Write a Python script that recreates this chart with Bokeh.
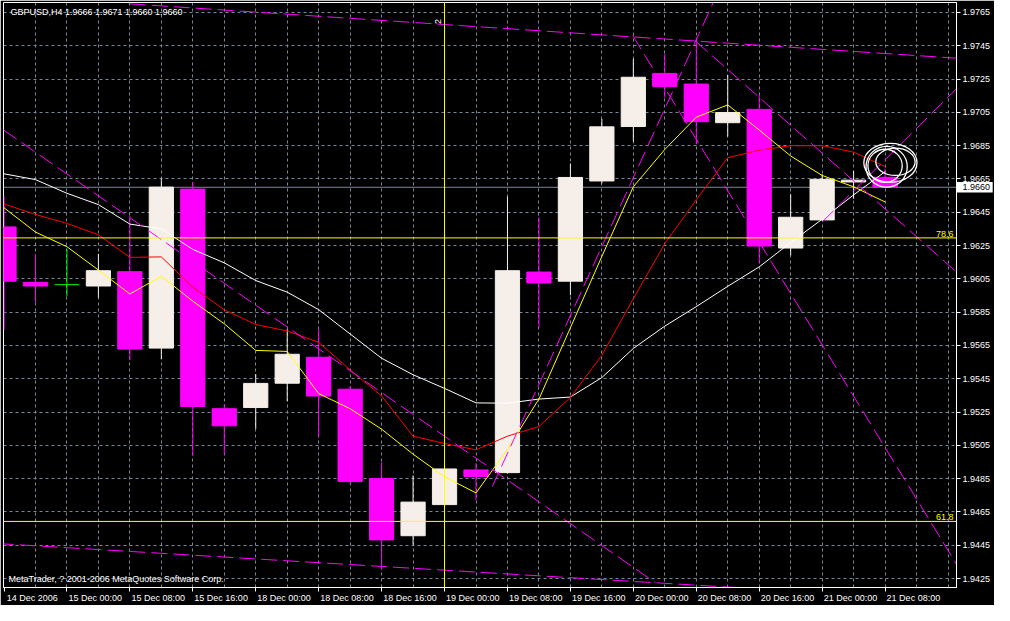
import numpy as np
from bokeh.plotting import figure
from bokeh.models import FixedTicker, Span, PrintfTickFormatter
from bokeh.core.properties import value
from bokeh.embed import file_html
from bokeh.resources import INLINE

# ---------------- data ----------------
symbol = "GBPUSD"
timeframe = "H4"

bar_times = ["14 Dec 16:00", "14 Dec 20:00", "15 Dec 00:00", "15 Dec 04:00", "15 Dec 08:00",
             "15 Dec 12:00", "15 Dec 16:00", "15 Dec 20:00", "18 Dec 00:00", "18 Dec 04:00",
             "18 Dec 08:00", "18 Dec 12:00", "18 Dec 16:00", "18 Dec 20:00", "19 Dec 00:00",
             "19 Dec 04:00", "19 Dec 08:00", "19 Dec 12:00", "19 Dec 16:00", "19 Dec 20:00",
             "20 Dec 00:00", "20 Dec 04:00", "20 Dec 08:00", "20 Dec 12:00", "20 Dec 16:00",
             "20 Dec 20:00", "21 Dec 00:00", "21 Dec 04:00", "21 Dec 08:00"]

open_ = [1.96362, 1.96029, 1.96015, 1.96007, 1.96093, 1.95634, 1.96589, 1.95270, 1.95277, 1.95423,
         1.95579, 1.95387, 1.94850, 1.94507, 1.94694, 1.94902, 1.94886, 1.96091, 1.96036, 1.96638,
         1.96965, 1.97284, 1.97220, 1.96988, 1.97068, 1.96235, 1.96404, 1.96632, 1.9666]
high = [1.96548, 1.96200, 1.96229, 1.96200, 1.96428, 1.96652, 1.96632, 1.95299, 1.95478, 1.95747,
        1.95747, 1.95406, 1.94949, 1.94869, 1.94935, 1.94943, 1.96544, 1.96420, 1.96743, 1.97010,
        1.97372, 1.97401, 1.97500, 1.97274, 1.97154, 1.96558, 1.96679, 1.96698, 1.9671]
low = [1.95743, 1.95910, 1.95945, 1.95937, 1.95562, 1.95568, 1.94988, 1.94997, 1.95149, 1.95315,
       1.95105, 1.94819, 1.94302, 1.94453, 1.94680, 1.94721, 1.94880, 1.95756, 1.95951, 1.96623,
       1.96875, 1.97138, 1.96858, 1.96905, 1.96146, 1.96191, 1.96400, 1.96531, 1.9660]
close = [1.96036, 1.96007, 1.96015, 1.96099, 1.95628, 1.96601, 1.95283, 1.95167, 1.95422, 1.95597,
         1.95346, 1.94832, 1.94482, 1.94709, 1.94908, 1.94863, 1.96099, 1.96025, 1.96659, 1.96963,
         1.97261, 1.97204, 1.96994, 1.97049, 1.96247, 1.96420, 1.96648, 1.96643, 1.9660]

ma_slow = [1.96681, 1.96646, 1.96564, 1.96496, 1.96379, 1.96350, 1.96227, 1.96146, 1.96040, 1.95970,
           1.95865, 1.95719, 1.95573, 1.95474, 1.95392, 1.95305, 1.95303, 1.95328, 1.95340, 1.95457,
           1.95632, 1.95766, 1.95883, 1.96005, 1.96122, 1.96268, 1.96408, 1.96554, 1.96694]
ma_mid = [1.96500, 1.96437, 1.96383, 1.96315, 1.96179, 1.96182, 1.96000, 1.95864, 1.95776, 1.95737,
          1.95669, 1.95503, 1.95347, 1.95105, 1.95061, 1.95023, 1.95105, 1.95163, 1.95338, 1.95591,
          1.95931, 1.96262, 1.96525, 1.96778, 1.96823, 1.96850, 1.96850, 1.96811, 1.96725]
ma_fast = [1.96477, 1.96331, 1.96243, 1.96103, 1.95959, 1.96066, 1.95916, 1.95780, 1.95620, 1.95614,
           1.95361, 1.95270, 1.95147, 1.94997, 1.94861, 1.94764, 1.95026, 1.95328, 1.95756, 1.96185,
           1.96603, 1.96827, 1.97021, 1.97095, 1.96944, 1.96788, 1.96671, 1.96603, 1.96512]

# trend lines: start bar, start price, end bar, end price
trend_x0 = [4.0, -0.2, -0.02, 15.52, 21.98, 19.98, 26.0]
trend_p0 = [1.97702, 1.94460, 1.96945, 1.94803, 1.97478, 1.97512, 1.96391]
trend_x1 = [30.3, 23.5, 20.70, 22.54, 30.27, 30.27, 30.27]
trend_p1 = [1.97375, 1.94193, 1.94225, 1.97710, 1.96091, 1.94336, 1.97192]

fib_levels = [1.96296, 1.94593]
fib_labels = ["78.6", "61.8"]

current_price = 1.9660
vline_bar = 14
vline_label = "2"

ellipse_x = [28.17, 28.05, 28.0, 28.33]
ellipse_y = [1.96747, 1.96723, 1.96729, 1.96753]
ellipse_w = [1.69, 1.31, 1.09, 1.25]
ellipse_h = [0.00234, 0.00245, 0.00199, 0.00164]

y_ticks = [1.9425, 1.9445, 1.9465, 1.9485, 1.9505, 1.9525, 1.9545, 1.9565, 1.9585,
           1.9605, 1.9625, 1.9645, 1.9665, 1.9685, 1.9705, 1.9725, 1.9745, 1.9765]
x_tick_bars = [0, 2, 4, 6, 8, 10, 12, 14, 16, 18, 20, 22, 24, 26, 28]
x_tick_labels = ["14 Dec 2006", "15 Dec 00:00", "15 Dec 08:00", "15 Dec 16:00", "18 Dec 00:00",
                 "18 Dec 08:00", "18 Dec 16:00", "19 Dec 00:00", "19 Dec 08:00", "19 Dec 16:00",
                 "20 Dec 00:00", "20 Dec 08:00", "20 Dec 16:00", "21 Dec 00:00", "21 Dec 08:00"]

copyright_text = "MetaTrader, ? 2001-2006 MetaQuotes Software Corp."

# ---------------- styling ----------------
FONT = "Liberation Sans"
BULL = "#F6EFE9"
BEAR = "#FF00FF"
DOJI = "#00FF00"
GRID = "#778899"
LABEL_SHIFT = 0.9   # time labels start at their tick (left aligned)

x_start, x_end = -0.016, 30.27
y_start, y_end = 1.94196, 1.97710

p = figure(width=994, height=605, x_range=(x_start, x_end), y_range=(y_start, y_end),
           y_axis_location="right", output_backend="svg", toolbar_location=None,
           background_fill_color="black", border_fill_color="black",
           min_border_left=3, min_border_top=2, min_border_right=38, min_border_bottom=17)
p.outline_line_color = "white"
p.outline_line_width = 1

p.yaxis.ticker = FixedTicker(ticks=y_ticks)
p.yaxis.formatter = PrintfTickFormatter(format="%.4f")
label_pos = [b + LABEL_SHIFT for b in x_tick_bars]
p.xaxis.ticker = FixedTicker(ticks=label_pos, minor_ticks=x_tick_bars)
p.xaxis.major_label_overrides = {pos: t for pos, t in zip(label_pos, x_tick_labels)}
for ax in (p.xaxis[0], p.yaxis[0]):
    ax.axis_line_color = "white"
    ax.major_tick_line_color = "white"
    ax.major_tick_out = 4
    ax.major_tick_in = 0
    ax.minor_tick_line_color = None
    ax.major_label_text_color = "white"
    ax.major_label_text_font = FONT
    ax.major_label_text_font_size = "9px"
    ax.major_label_standoff = 2
p.xaxis.major_tick_line_color = None
p.xaxis.minor_tick_line_color = "white"
p.xaxis.minor_tick_out = 4
p.xaxis.minor_tick_in = 0
p.xaxis.major_label_standoff = 1

p.xgrid.ticker = FixedTicker(ticks=list(range(1, 31)))
for g in (p.xgrid[0], p.ygrid[0]):
    g.grid_line_color = GRID
    g.grid_line_dash = "3 3"
    g.grid_line_width = 1

# current price line (behind candles)
p.add_layout(Span(location=current_price, dimension="width", line_color=GRID,
                  line_width=1, level="underlay"))

# ---------------- candles ----------------
idx = np.arange(len(open_))
o = np.array(open_); h = np.array(high); l = np.array(low); c = np.array(close)
bull = c > o
bear = c < o
doji = c == o
bw = 0.77

p.segment(idx[bull], h[bull], idx[bull], l[bull], color=BULL, line_width=1)
p.segment(idx[bear], h[bear], idx[bear], l[bear], color=BEAR, line_width=1)
p.segment(idx[doji], h[doji], idx[doji], l[doji], color=DOJI, line_width=1)
p.vbar(x=idx[bull], top=c[bull], bottom=o[bull], width=bw, fill_color=BULL, line_color=BULL)
p.vbar(x=idx[bear], top=o[bear], bottom=c[bear], width=bw, fill_color=BEAR, line_color=BEAR)
p.segment(idx[doji] - bw / 2, c[doji], idx[doji] + bw / 2, c[doji], color=DOJI, line_width=1)

# ---------------- moving averages ----------------
p.line(idx, ma_slow, color="white", line_width=1)
p.line(idx, ma_mid, color="#FF0000", line_width=1)
p.line(idx, ma_fast, color="#FFFF00", line_width=1)

# ---------------- trend lines ----------------
p.segment(trend_x0, trend_p0, trend_x1, trend_p1, color=BEAR, line_width=1, line_dash="16 6")

# ---------------- fibonacci levels ----------------
for lvl in fib_levels:
    p.add_layout(Span(location=lvl, dimension="width", line_color="#FFFF00", line_width=1))
p.text(x=[x_end] * len(fib_levels), y=fib_levels, text=fib_labels, x_offset=-3, y_offset=-1,
       text_align="right", text_baseline="bottom", text_color="#FFFF00",
       text_font=value(FONT), text_font_size="9px")

# vertical line
p.add_layout(Span(location=vline_bar, dimension="height", line_color="#FFFF00", line_width=1))
p.text(x=[vline_bar], y=[y_end], text=[vline_label], x_offset=-7, y_offset=19, angle=np.pi / 2,
       text_align="center", text_baseline="middle", text_color="white",
       text_font=value(FONT), text_font_size="9px")

# hand drawn circles
p.ellipse(x=ellipse_x, y=ellipse_y, width=ellipse_w, height=ellipse_h,
          fill_color=None, line_color="white", line_width=1.3)

# ---------------- texts ----------------
title = f"{symbol},{timeframe}  {open_[-1]:.4f} {high[-1]:.4f} {low[-1]:.4f} {close[-1]:.4f}"
p.text(x=[x_start], y=[y_end], text=[title], x_offset=7, y_offset=9,
       text_align="left", text_baseline="middle", text_color="white",
       text_font=value(FONT), text_font_size="9px")
p.text(x=[x_start], y=[y_start], text=[copyright_text], x_offset=5, y_offset=-9,
       text_align="left", text_baseline="middle", text_color="white",
       text_font=value(FONT), text_font_size="9px")

# current price marker on the price scale (drawn on overlay level, outside the frame)
p.quad(left=[x_end - 0.001], right=[x_end + 1.15],
       bottom=[current_price - 0.00032], top=[current_price + 0.00032],
       fill_color="white", line_color=None, level="overlay")
p.text(x=[x_end - 0.001], y=[current_price], text=[f"{current_price:.4f}"], x_offset=6,
       text_align="left", text_baseline="middle", text_color="black",
       text_font=value(FONT), text_font_size="9px", level="overlay")

open("out.html", "w").write(file_html(p, INLINE))
